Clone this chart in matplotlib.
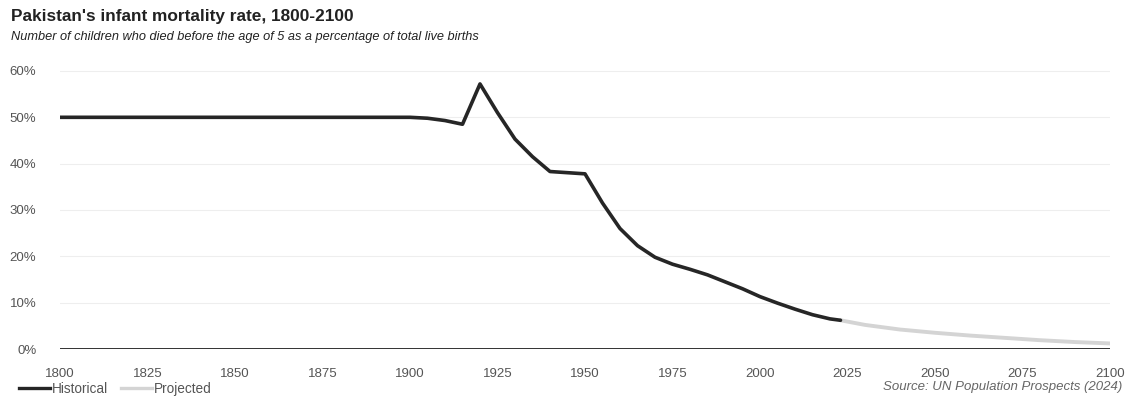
import numpy as np
import matplotlib.pyplot as plt
from matplotlib.lines import Line2D

plt.rcParams['font.family'] = ['Liberation Sans', 'DejaVu Sans']

# historical values (% of live births)
hist_years = [1800, 1825, 1850, 1875, 1900, 1905, 1910, 1915, 1920, 1925, 1930, 1935, 1940,
              1950, 1955, 1960, 1965, 1970, 1975, 1980, 1985, 1990, 1995, 2000, 2005,
              2010, 2015, 2020, 2023]
hist_rate = [50.0, 50.0, 50.0, 50.0, 50.0, 49.8, 49.3, 48.5, 57.2, 51.0, 45.3, 41.5, 38.3,
             37.8, 31.5, 26.0, 22.3, 19.8, 18.3, 17.2, 16.0, 14.5, 13.0, 11.3, 9.9,
             8.6, 7.4, 6.5, 6.2]

# projection
proj_years = [2023, 2030, 2040, 2050, 2060, 2070, 2080, 2090, 2100]
proj_rate = [6.2, 5.2, 4.2, 3.5, 2.9, 2.4, 1.9, 1.5, 1.2]

x_ticks = [1800, 1825, 1850, 1875, 1900, 1925, 1950, 1975, 2000, 2025, 2050, 2075, 2100]
y_ticks = [0, 10, 20, 30, 40, 50, 60]

fig = plt.figure(figsize=(11.28, 3.98), dpi=100)
ax = fig.add_axes([60/1128, 1 - 349/398, 1050/1128, (349 - 61.7)/398])

ax.plot(proj_years, proj_rate, color='#d4d4d4', lw=2.8, solid_capstyle='round')
ax.plot(hist_years, hist_rate, color='#262626', lw=2.6, solid_capstyle='round')

ax.set_xlim(1800, 2100)
ax.set_ylim(0, 62)
ax.set_yticks(y_ticks)
ax.set_yticklabels([f'{v}%' for v in y_ticks])
ax.set_xticks(x_ticks)
ax.set_xticklabels([str(v) for v in x_ticks])
for g in y_ticks[1:]:
    ax.axhline(g, color='#eeeeee', lw=0.8, zorder=0)
ax.axhline(0, color='#222222', lw=1.3)

for s in ax.spines.values():
    s.set_visible(False)
ax.tick_params(axis='both', length=0, labelsize=9.5, labelcolor='#555555')
ax.tick_params(axis='x', pad=14)
ax.tick_params(axis='y', pad=17)

fig.text(11/1128, 1 - 17/398, "Pakistan's infant mortality rate, 1800-2100",
         fontsize=12.4, fontweight='bold', color='#222222', va='center')
fig.text(11/1128, 1 - 37/398,
         'Number of children who died before the age of 5 as a percentage of total live births',
         fontsize=9.2, style='italic', color='#222222', va='center')

handles = [Line2D([], [], color='#262626', lw=2.4), Line2D([], [], color='#d4d4d4', lw=2.4)]
fig.legend(handles, ['Historical', 'Projected'], loc='center left',
           bbox_to_anchor=(12/1128, 1 - 389/398), ncol=2, frameon=False,
           fontsize=9.8, labelcolor='#555555', handlelength=2.3, handletextpad=0.15,
           columnspacing=0.9, borderpad=0)
fig.text(1122/1128, 1 - 387/398, 'Source: UN Population Prospects (2024)',
         fontsize=9.5, style='italic', color='#666666', ha='right', va='center')

fig.savefig('out.png', dpi=100, facecolor='white')
